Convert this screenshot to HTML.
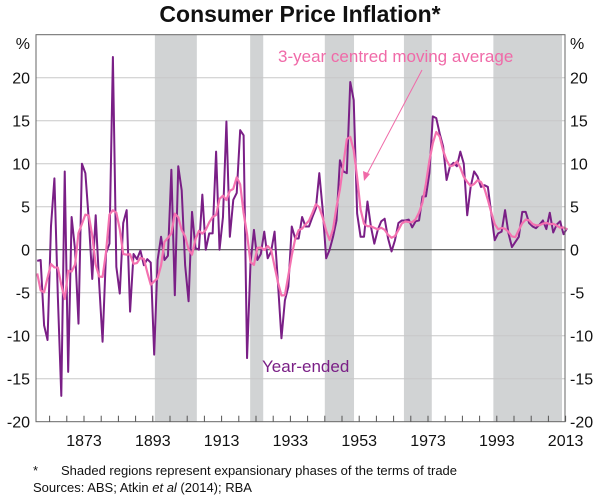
<!DOCTYPE html>
<html><head><meta charset="utf-8">
<style>
html,body{margin:0;padding:0;background:#fff;}
svg{display:block;font-family:"Liberation Sans",Arial,sans-serif;}
</style></head>
<body>
<svg id="chart" width="600" height="496" viewBox="0 0 600 496">
<text x="300" y="22" text-anchor="middle" font-size="23" font-weight="bold" fill="#111">Consumer Price Inflation*</text>
<g id="shade"></g>
<g id="grid"></g>
<g id="series"></g>
<g id="axes"></g>
<text x="278" y="62" font-size="17" fill="#f06aa8">3-year centred moving average</text>
<line x1="422" y1="70" x2="366" y2="176" stroke="#f06aa8" stroke-width="1"/>
<polygon points="364,181 363,171 370,174" fill="#f06aa8"/>
<text x="262" y="372" font-size="17" fill="#7a1f86">Year-ended</text>
<text x="33" y="475" font-size="13" fill="#111">*</text>
<text x="61" y="475" font-size="13" fill="#111">Shaded regions represent expansionary phases of the terms of trade</text>
<text x="33" y="492" font-size="13" fill="#111">Sources: ABS; Atkin <tspan font-style="italic">et al</tspan> (2014); RBA</text>
</svg>
<script>
const startYear = 1859;
const yearEnded = [
-1.3,-1.2,-8.8,-10.5,2.7,8.3,-5.5,-17,9.1,-14.2,3.8,0,-8.6,10,8.9,3.4,-3.4,4,-3.9,-10.7,-0.4,0.7,22.4,-2,-5.1,3.1,4.6,-7.2,-0.5,-1.1,-0.1,-1.8,-1.1,-1.5,-12.2,-1.2,1.5,-1.2,-0.7,9.3,-5.3,9.7,6.9,-1.8,-6,4.4,0.2,0,6.4,0,1.9,
1.9,11.4,0,3.8,14.9,1.5,5.8,6.6,13.9,13.3,-12.6,-1.6,2.3,-1.2,-0.5,2.1,-1,-0.2,2.1,-4,-10.3,-5.9,-4.3,2.7,1.3,1.3,3.8,2.7,2.7,3.8,4.8,8.9,4.6,-1,0,1.5,3.4,10.4,9.1,8.9,19.5,17.4,4.2,1.5,1.5,5.6,2.7,0.7,2.3,3.3,
3.6,1.3,-0.2,1.1,3.1,3.4,3.4,3.5,2.6,3.3,3.4,6.2,6.2,8.9,15.5,15.3,13.5,12,8.1,9.7,10.1,9.7,11.4,10,4,7.3,9.1,8.5,7.3,7.5,7.3,4.2,1.1,1.9,2.1,4.6,1.9,0.3,0.9,1.5,4.4,4.4,3.1,2.7,2.5,2.9,3.4,2.4,4.3,2,2.9,3.3,1.8,2.5
];
const years = yearEnded.map((v,i)=>startYear+i);
const shadeStart = [1893.6, 1921.3, 1943.0, 1966.0, 1992.0];
const shadeEnd   = [1905.8, 1925.1, 1951.5, 1974.1, 2012.9];
const yTicks = [25,20,15,10,5,0,-5,-10,-15,-20];
const yTickLabels = ["%","20","15","10","5","0","-5","-10","-15","-20"];
const xLabelYears = [1873,1893,1913,1933,1953,1973,1993,2013];
const maWeights = [0.5,1,1,1,0.5];

const NS="http://www.w3.org/2000/svg";
const L=36, R=565, T=34.7, B=421.7;
function xs(y){return 84+(y+0.4-1873)*3.44;}
function xb(y){return 84+(y-1873)*3.44;}
function ys(v){return 249.7-v*8.6;}
function mk(tag,attrs,parent){const e=document.createElementNS(NS,tag);for(const k in attrs)e.setAttribute(k,attrs[k]);parent.appendChild(e);return e;}
const gShade=document.getElementById('shade'),gGrid=document.getElementById('grid'),gSer=document.getElementById('series'),gAx=document.getElementById('axes');

shadeStart.forEach((s,i)=>{
  const x1=Math.max(L,xb(s)),x2=Math.min(R-3,xb(shadeEnd[i]));
  const r=mk('rect',{x:x1,y:T,width:x2-x1,height:B-T,fill:'#d1d3d4'},gShade);
  
  
});
yTicks.forEach((v,i)=>{
  if(v<25&&v>-20){
    const ln=mk('line',{x1:L,x2:R,y1:ys(v),y2:ys(v),stroke:v===0?'#555':'#c8c8c8','stroke-width':v===0?1.2:1},gGrid);
    
    
  }
  const yy=(v===25)?49:ys(v)+6;
  const t1=mk('text',{x:30,y:yy,'text-anchor':'end','font-size':'16',fill:'#111'},gAx);
  t1.textContent=yTickLabels[i];
  
  
  const t2=mk('text',{x:570,y:yy,'text-anchor':'start','font-size':'16',fill:'#111'},gAx);
  t2.textContent=yTickLabels[i];
  
  
});
// 3-year centred moving average derived from yearEnded
const ma=yearEnded.map((v,i)=>{let s=0,w=0;maWeights.forEach((wt,k)=>{const j=i+k-2;if(j>=0&&j<yearEnded.length){s+=yearEnded[j]*wt;w+=wt;}});return s/w;});
const p1=mk('polyline',{points:years.map((y,i)=>xs(y)+','+ys(yearEnded[i])).join(' '),fill:'none',stroke:'#7a1f86','stroke-width':2,'stroke-linejoin':'round'},gSer);


const p2=mk('polyline',{points:years.map((y,i)=>xs(y)+','+ys(ma[i])).join(' '),fill:'none',stroke:'#f472b0','stroke-width':2.2,'stroke-linejoin':'round'},gSer);



const fr=mk('rect',{x:L,y:T,width:R-L,height:B-T,fill:'none',stroke:'#666','stroke-width':1},gAx);


for(let y=1863;y<=2013;y+=5){
  const tk=mk('line',{x1:xb(y),x2:xb(y),y1:B,y2:B-6,stroke:'#555','stroke-width':1},gAx);
  
  
}
xLabelYears.forEach(y=>{
  const t=mk('text',{x:xb(y),y:446,'text-anchor':'middle','font-size':'16',fill:'#111'},gAx);
  t.textContent=y;
  
  
});
</script>
</body></html>
